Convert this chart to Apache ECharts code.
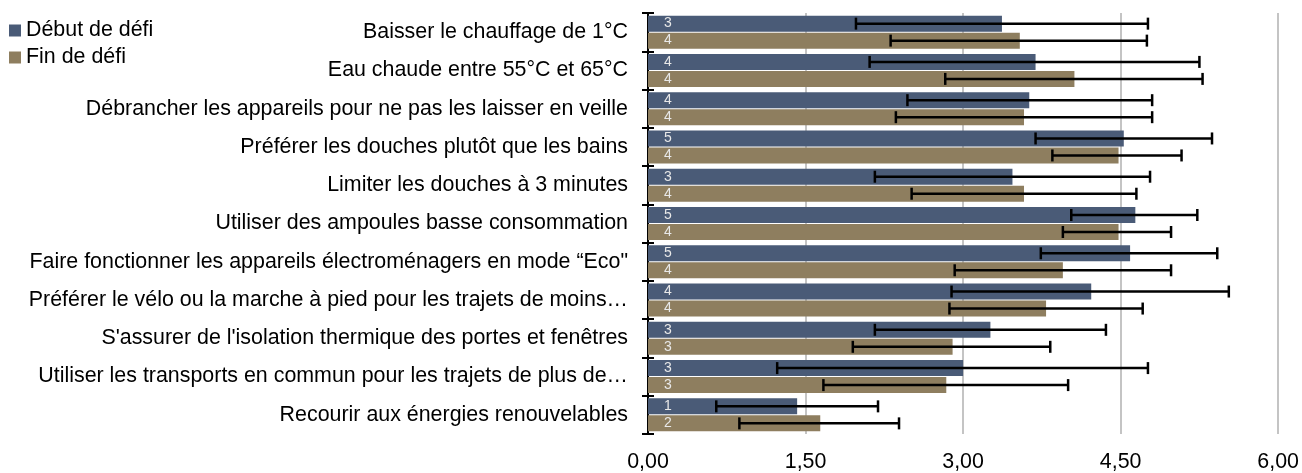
<!DOCTYPE html>
<html>
<head>
<meta charset="utf-8">
<script src="https://cdn.jsdelivr.net/npm/echarts@6/dist/echarts.min.js"></script>
<style>
html,body{margin:0;padding:0;background:#fff;}
#chart{width:1302px;height:473px;}
</style>
</head>
<body>
<div id="chart"></div>
<script>
const categories = [
  "Baisser le chauffage de 1°C",
  "Eau chaude entre 55°C et 65°C",
  "Débrancher les appareils pour ne pas les laisser en veille",
  "Préférer les douches plutôt que les bains",
  "Limiter les douches à 3 minutes",
  "Utiliser des ampoules basse consommation",
  "Faire fonctionner les appareils électroménagers en mode “Eco\"",
  "Préférer le vélo ou la marche à pied pour les trajets de moins…",
  "S'assurer de l'isolation thermique des portes et fenêtres",
  "Utiliser les transports en commun pour les trajets de plus de…",
  "Recourir aux énergies renouvelables"
];
const seriesNames = ["Début de défi", "Fin de défi"];
const debutValues = [3.37, 3.69, 3.63, 4.53, 3.47, 4.64, 4.59, 4.22, 3.26, 3.00, 1.42];
const finValues   = [3.54, 4.06, 3.58, 4.48, 3.58, 4.48, 3.95, 3.79, 2.90, 2.84, 1.64];
const debutLow  = [1.98, 2.11, 2.47, 3.69, 2.16, 4.03, 3.74, 2.89, 2.16, 1.23, 0.65];
const debutHigh = [4.76, 5.25, 4.80, 5.37, 4.78, 5.23, 5.42, 5.53, 4.36, 4.76, 2.19];
const finLow    = [2.31, 2.83, 2.36, 3.85, 2.51, 3.95, 2.92, 2.87, 1.95, 1.67, 0.87];
const finHigh   = [4.75, 5.28, 4.80, 5.08, 4.65, 4.98, 4.98, 4.71, 3.83, 4.00, 2.39];
const xTicks = [0, 1.5, 3, 4.5, 6];

const FONT = "'Liberation Sans', Arial, sans-serif";
const BAR_W = 16;
const GAP_PX = 1;
const colors = ['#4a5b77', '#8e7e5f'];

function errData(lo, hi) {
  return categories.map((c, i) => [i, lo[i], hi[i]]);
}
function makeErr(name, lo, hi, sign) {
  return {
    type: 'custom',
    name: name + ' err',
    yAxisIndex: 0,
    z: 10,
    silent: true,
    encode: { x: [1, 2], y: 0 },
    data: errData(lo, hi),
    renderItem: function (params, api) {
      const ci = api.value(0);
      const p1 = api.coord([api.value(1), ci]);
      const p2 = api.coord([api.value(2), ci]);
      const off = sign * (BAR_W + GAP_PX) / 2;
      const y = p1[1] + off;
      const h = 6;
      const st = { stroke: '#000', lineWidth: 2.5 };
      return {
        type: 'group',
        children: [
          { type: 'line', shape: { x1: p1[0], y1: y, x2: p2[0], y2: y }, style: st },
          { type: 'line', shape: { x1: p1[0], y1: y - h, x2: p1[0], y2: y + h }, style: st },
          { type: 'line', shape: { x1: p2[0], y1: y - h, x2: p2[0], y2: y + h }, style: st }
        ]
      };
    }
  };
}

const chart = echarts.init(document.getElementById('chart'), null, { renderer: 'canvas' });
const labelCfg = {
  show: true,
  position: 'insideLeft',
  distance: 16,
  color: '#e8e8e8',
  fontSize: 14,
  fontFamily: FONT,
  formatter: p => String(Math.round(p.value))
};
chart.setOption({
  animation: false,
  textStyle: { fontFamily: FONT },
  legend: {
    orient: 'vertical',
    left: 9,
    top: 20,
    padding: 0,
    itemWidth: 12,
    itemHeight: 12,
    itemGap: 6,
    icon: 'rect',
    data: seriesNames,
    textStyle: { fontSize: 21.4, color: '#000', fontFamily: FONT, padding: [0, 0, 0, 0] }
  },
  grid: { left: 648, right: 23, top: 13, bottom: 36, containLabel: false },
  xAxis: {
    type: 'value',
    min: 0, max: 6, interval: 1.5,
    axisLine: { show: false },
    axisTick: { show: false },
    axisLabel: {
      fontSize: 21.4, color: '#000', margin: 18, fontFamily: FONT,
      formatter: v => v.toFixed(2).replace('.', ',')
    },
    splitLine: { show: true, lineStyle: { color: '#c4c4c4', width: 2 } }
  },
  yAxis: [
    {
      type: 'category',
      data: categories,
      inverse: true,
      axisLine: { show: true, lineStyle: { color: '#000', width: 2 } },
      axisTick: { show: true, length: 6, lineStyle: { color: '#000', width: 2 } },
      axisLabel: { fontSize: 21.4, color: '#000', margin: 20, fontFamily: FONT },
      splitLine: { show: false }
    },
    {
      type: 'category',
      data: categories,
      inverse: true,
      position: 'left',
      axisLine: { show: false },
      axisTick: { show: true, inside: true, length: 6, lineStyle: { color: '#000', width: 2 } },
      axisLabel: { show: false },
      splitLine: { show: false }
    }
  ],
  series: [
    {
      name: seriesNames[0], type: 'bar', data: debutValues,
      barWidth: BAR_W, barGap: (GAP_PX / BAR_W * 100) + '%',
      itemStyle: { color: colors[0] }, label: labelCfg
    },
    {
      name: seriesNames[1], type: 'bar', data: finValues,
      barWidth: BAR_W,
      itemStyle: { color: colors[1] }, label: labelCfg
    },
    makeErr(seriesNames[0], debutLow, debutHigh, -1),
    makeErr(seriesNames[1], finLow, finHigh, 1)
  ]
});
</script>
</body>
</html>
